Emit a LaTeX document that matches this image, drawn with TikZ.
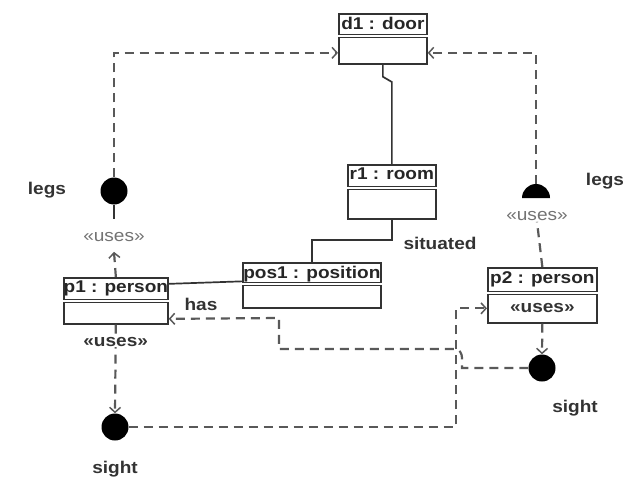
\documentclass[tikz,border=0pt]{standalone}
\usepackage{fontspec}
\setmainfont{Liberation Sans}[FakeStretch=1.12]
\usetikzlibrary{arrows.meta}

\tikzset{
  obj/.style={draw=black!80, line width=1.7pt, anchor=north west, inner sep=0pt},
  objname/.style={font=\bfseries\fontsize{17}{17}\selectfont, text=black!85, anchor=north, inner sep=0pt, yshift=-4pt},
  dep/.style={draw=black!65, line width=2.2pt, dash pattern=on 9pt off 6pt},
  assoc/.style={draw=black!80, line width=1.7pt},
  barb/.style={-{Straight Barb[length=5pt,width=11pt,line width=1.5pt]}},
  iface/.style={circle, fill=black, inner sep=0pt, minimum size=27pt},
  lbl/.style={font=\bfseries\fontsize{17}{17}\selectfont, text=black!80, inner sep=1pt},
  stereo/.style={font=\fontsize{17}{17}\selectfont, text=black!55, fill=white, inner sep=1pt},
}

% separator under the object name
\newcommand{\objsep}[2]{%
  \draw[draw=black!80, double, double distance=2pt, line width=1.3pt]
    ([yshift=-#2]#1.north west) -- ([yshift=-#2]#1.north east);}

\begin{document}
\begin{tikzpicture}[x=1pt, y=-1pt]
\useasboundingbox (0,0) rectangle (626,487);

% objects
\node[obj, minimum width=88pt, minimum height=50pt] (d1) at (338,13) {};
\node[objname] at (d1.north) {d1 : door};
\objsep{d1}{23pt}

\node[obj, minimum width=88pt, minimum height=54pt] (r1) at (347,164) {};
\node[objname] at (r1.north) {r1 : room};
\objsep{r1}{24pt}

\node[obj, minimum width=138pt, minimum height=45pt] (pos1) at (242,262) {};
\node[objname] at (pos1.north) {pos1 : position};
\objsep{pos1}{22pt}

\node[obj, minimum width=104pt, minimum height=46pt] (p1) at (63,277) {};
\node[objname] at (p1.north) {p1 : person};
\objsep{p1}{24pt}

\node[obj, minimum width=109pt, minimum height=55pt] (p2) at (487,267) {};
\node[objname] at (p2.north) {p2 : person};
\objsep{p2}{26pt}
\node[lbl] (p2uses) at ([yshift=-41pt]p2.north) {«uses»};

% interfaces
\node[iface] (legsL) at (114,191) {};
\node[iface] (sightL) at (115,427) {};
\node[iface] (sightR) at (542,368) {};
\coordinate (legsR) at (536,198);
\fill (legsR) ++(-14pt,0) arc[start angle=180, end angle=0, radius=14pt] -- cycle;

% labels
\node[lbl] (legsLlbl) at (47,190) {legs};
\node[lbl] (legsRlbl) at (605,181) {legs};
\node[lbl] (sightLlbl) at (115,469) {sight};
\node[lbl] (sightRlbl) at (575,408) {sight};
\node[lbl] (situated) at (440,243) {situated};
\node[lbl] (has) at (201,304) {has};
\node[stereo] (usesL) at (114,237) {«uses»};
\node[stereo] (usesR) at (537,216) {«uses»};

% associations
\draw[assoc] (d1.south) -- ++(0,12) -- (r1.north |- 0,82) -- (r1.north);
\draw[assoc] (r1.south) -- ++(0,20) -| (pos1.north);
\draw[assoc] ([yshift=17pt]p1.east) -- ([yshift=4pt]pos1.west);
\draw[assoc] (legsL.south) -- ++(0,14);

% dependencies
\draw[dep, barb] (legsL.north) |- ([yshift=-14pt]d1.west);
\draw[dep, barb] ([yshift=14pt]legsR) |- ([yshift=-14pt]d1.east);
\draw[dep, barb] (p1.north) -- ([yshift=-9pt]usesL.south);
\draw[dep] (p2.north) -- (usesR.south);
\draw[dep, barb] (p1.south) -- node[pos=0.19, lbl, fill=white] {«uses»} (sightL.north);
\draw[dep, barb] (p2.south) -- (sightR.north);
\draw[dep, barb] (sightL.east) -| ([xshift=-31pt,yshift=-13pt]p2.west)
  -- ([yshift=-13pt]p2.west);
\draw[dep, barb] (sightR.west) -- (462,368) -- (462,358)
  to[out=90, in=0] (455,349) -- (279,349) -- (279,318)
  -- ([yshift=-18pt]p1.east);
\end{tikzpicture}
\end{document}
